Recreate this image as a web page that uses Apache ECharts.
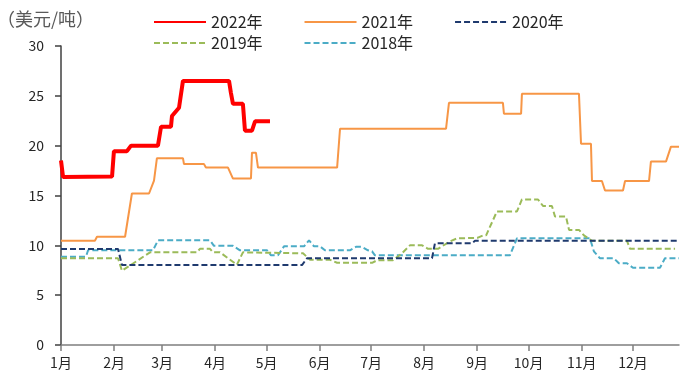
<!DOCTYPE html>
<html>
<head>
<meta charset="utf-8">
<script src="https://cdn.jsdelivr.net/npm/echarts@6/dist/echarts.min.js"></script>
<style>html,body{margin:0;padding:0;background:#fff}#c{width:698px;height:383px}</style>
</head>
<body>
<div id="c"></div>
<script>
// x values are day-of-year (0 = 1 Jan)
var monthStarts = [0, 31, 59, 90, 120, 151, 181, 212, 243, 273, 304, 334];
var monthLabels = ['1月','2月','3月','4月','5月','6月','7月','8月','9月','10月','11月','12月'];
var yTicks = [0, 5, 10, 15, 20, 25, 30];
var seriesNames = ['2022年','2021年','2020年','2019年','2018年'];

var data2022 = [[0,18.5],[1.2,16.85],[29.8,16.9],[30.9,19.45],[38.5,19.45],[40.9,20.0],[56.6,20.0],[58.4,21.9],[64.2,21.9],[64.8,22.97],[68.9,23.8],[71.2,26.5],[98.1,26.5],[99.2,25.3],[100.4,24.2],[106.2,24.2],[107.4,21.5],[111.5,21.5],[113.3,22.45],[122.0,22.45]];

var data2021 = [[0,10.46],[19.8,10.46],[21.0,10.86],[37.4,10.86],[41.4,15.2],[51.4,15.2],[54.3,16.5],[56.0,18.75],[71.2,18.75],[71.8,18.15],[83.5,18.15],[84.6,17.8],[97.5,17.8],[100.4,16.7],[110.9,16.7],[111.5,19.3],[113.8,19.3],[115.0,17.8],[161.2,17.8],[162.9,21.7],[224.8,21.7],[226.5,24.3],[258.0,24.3],[258.6,23.2],[268.6,23.2],[269.1,25.2],[302.4,25.2],[303.6,20.2],[309.4,20.2],[310.0,16.45],[315.8,16.45],[317.6,15.5],[328.1,15.5],[329.3,16.45],[343.3,16.45],[344.4,18.4],[353.2,18.4],[356.1,19.9],[360.8,19.9]];

var data2020 = [[0,9.63],[33.3,9.63],[35.6,8.02],[140.7,8.02],[143.6,8.7],[216.6,8.7],[218.3,10.2],[239.9,10.2],[241.7,10.46],[360.8,10.46]];

var data2019 = [[0,8.7],[33.3,8.7],[35.6,7.45],[52.0,9.3],[79.4,9.3],[81.1,9.65],[87.0,9.65],[88.7,9.3],[92.8,9.3],[102.7,8.05],[106.2,9.3],[141.3,9.2],[145.4,8.55],[157.0,8.55],[161.2,8.25],[181.6,8.25],[184.5,8.5],[193.8,8.5],[199.1,9.2],[203.7,10.0],[210.8,10.0],[214.3,9.65],[220.1,9.65],[227.1,10.4],[231.2,10.7],[243.1,10.75],[246.4,11.0],[248.2,11.0],[254.5,13.4],[266.2,13.4],[269.1,14.6],[278.5,14.6],[281.4,13.95],[286.6,13.95],[288.4,12.9],[294.8,12.9],[296.6,11.55],[302.4,11.55],[305.3,11.0],[310.0,10.46],[330.4,10.46],[332.2,9.65],[358.5,9.65]];

var data2018 = [[0,8.86],[14.6,8.86],[15.8,9.5],[53.7,9.5],[56.6,10.5],[87.0,10.5],[89.3,9.95],[100.4,9.95],[104.5,9.5],[120.3,9.5],[122.6,9.0],[126.7,9.0],[130.2,9.9],[141.9,9.9],[144.8,10.5],[147.7,9.9],[151.2,9.9],[154.1,9.5],[168.7,9.5],[172.2,9.85],[175.7,9.85],[179.2,9.5],[181.6,9.4],[183.3,9.0],[262.1,9.0],[266.2,10.7],[308.8,10.7],[311.1,9.4],[314.7,8.7],[322.8,8.7],[325.7,8.2],[330.4,8.2],[333.9,7.75],[349.7,7.75],[352.6,8.7],[360.8,8.7]];

var colors = {'2022年':'#FF0000','2021年':'#F79646','2020年':'#1F3A6E','2019年':'#9BBB59','2018年':'#4BACC6'};
var FONT = 'Noto Sans CJK SC';

function mk(name, data, width, dashed) {
  return {
    name: name, type: 'line', data: data, symbol: 'none', showSymbol: false,
    animation: false,
    lineStyle: { color: colors[name], width: width, type: dashed ? [6, 3] : 'solid' },
    itemStyle: { color: colors[name] }
  };
}

var legendCommon = {
  left: 153, padding: 0,
  itemWidth: 52, itemHeight: 14, itemGap: 41,
  itemStyle: { opacity: 0 },
  textStyle: { fontFamily: FONT, fontSize: 16, color: '#262626' }
};

var chart = echarts.init(document.getElementById('c'), null, {renderer: 'canvas'});
chart.setOption({
  animation: false,
  backgroundColor: '#ffffff',
  title: {
    text: '（美元/吨）', left: -3, top: 10, padding: 0,
    textStyle: { fontFamily: FONT, fontSize: 18, fontWeight: 'normal', color: '#595959' }
  },
  legend: [
    Object.assign({ data: ['2022年','2021年','2020年'], top: 14 }, legendCommon),
    Object.assign({ data: ['2019年','2018年'], top: 35 }, legendCommon)
  ],
  grid: { left: 61, right: 19, top: 46, bottom: 38, containLabel: false },
  xAxis: {
    type: 'value', min: 0, max: 360.8,
    axisLine: { show: true, lineStyle: { color: '#7f7f7f', width: 1.5 } },
    axisTick: { show: true, customValues: monthStarts, length: 6, lineStyle: { color: '#7f7f7f', width: 1.5 } },
    axisLabel: {
      customValues: monthStarts, margin: 11,
      fontFamily: FONT, fontSize: 14, color: '#262626',
      formatter: function (v) { var i = monthStarts.indexOf(Math.round(v)); return i >= 0 ? monthLabels[i] : ''; }
    },
    splitLine: { show: false }
  },
  yAxis: {
    type: 'value', min: 0, max: 30, interval: 5,
    axisLine: { show: true, lineStyle: { color: '#404040', width: 1.5 } },
    axisTick: { show: true, length: 6, lineStyle: { color: '#404040', width: 1.5 } },
    axisLabel: { margin: 17, fontFamily: FONT, fontSize: 14, color: '#262626',
      formatter: function (v) { return yTicks.indexOf(v) >= 0 ? String(v) : ''; } },
    splitLine: { show: false }
  },
  series: [
    mk('2018年', data2018, 2, true),
    mk('2019年', data2019, 2, true),
    mk('2020年', data2020, 2, true),
    mk('2021年', data2021, 2, false),
    mk('2022年', data2022, 4, false)
  ]
});
</script>
</body>
</html>
